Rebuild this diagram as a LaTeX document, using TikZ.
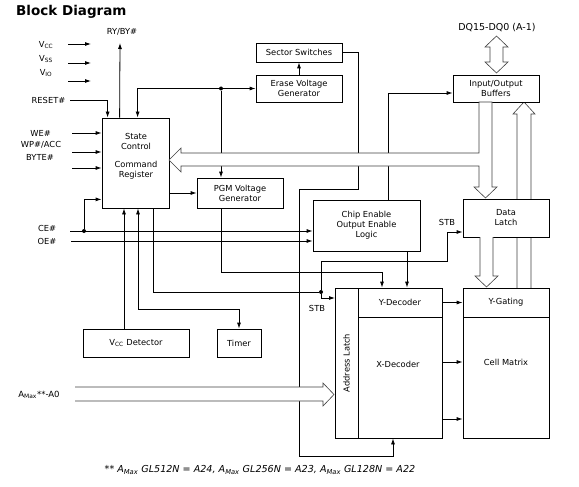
\documentclass[tikz,border=0pt]{standalone}
\usepackage{fontspec}
\setmainfont{DejaVu Sans}
\usetikzlibrary{arrows.meta,backgrounds}

\begin{document}
\begin{tikzpicture}[x=1pt,y=-1pt,
  block/.style={draw,fill=white,line width=0.8pt,inner sep=0pt,align=center,font=\fontsize{8.3}{10}\selectfont},
  txt/.style={inner sep=0pt,align=center,font=\fontsize{8.3}{10}\selectfont},
  link/.style={-{Latex[length=6pt,width=4pt]},line width=0.8pt},
  twoway/.style={{Latex[length=6pt,width=4pt]}-{Latex[length=6pt,width=4pt]},line width=0.8pt},
  wire/.style={line width=0.8pt},
  bus/.style={draw=black!75,fill=white,line width=0.6pt,line join=miter},
  junction/.style={circle,fill,inner sep=0pt,minimum size=4pt}]

\useasboundingbox (0,0) rectangle (579,487);

\node[anchor=base west,inner sep=0pt,font=\fontsize{13.5}{16}\selectfont\bfseries] (title) at (16,16) {Block Diagram};

\node[block,minimum width=67pt,minimum height=90pt] (sc) at (135.5,163) {};
\node[txt] (sctext) at (136,156) {State\\Control\\[8pt]Command\\Register};
\node[block,minimum width=86pt,minimum height=19pt] (sector) at (299,52.5) {Sector Switches};
\node[block,minimum width=86pt,minimum height=27pt] (erase) at (299,88.5) {Erase Voltage\\Generator};
\node[block,minimum width=86pt,minimum height=30pt] (pgm) at (240,193) {PGM Voltage\\Generator};
\node[block,minimum width=107pt,minimum height=51pt] (ce) at (366.5,225.5) {Chip Enable\\Output Enable\\Logic};
\node[block,minimum width=86pt,minimum height=27pt] (io) at (496,88.5) {Input/Output\\Buffers};
\node[block,minimum width=86pt,minimum height=38pt] (dl) at (506,218) {Data\\Latch};
\node[block,minimum width=106pt,minimum height=28pt] (vccdet) at (136,343) {V\textsubscript{CC} Detector};
\node[block,minimum width=44pt,minimum height=28pt] (timer) at (239,343) {Timer};
\node[block,rotate=90,minimum width=150pt,minimum height=23pt] (latch) at (346.5,363) {Address Latch};
\node[block,minimum width=84pt,minimum height=29pt] (ydec) at (400,302.5) {Y-Decoder};
\node[block,minimum width=84pt,minimum height=121pt] (xdec) at (400,377.5) {};
\node[txt] (xdectext) at (398,364) {X-Decoder};
\node[block,minimum width=86pt,minimum height=29pt] (ygate) at (506,302.5) {Y-Gating};
\node[block,minimum width=86pt,minimum height=121pt] (cell) at (506,377.5) {};
\node[txt] (celltext) at (506,362) {Cell Matrix};

\node[txt] (ryby) at (122,32) {RY/BY\#};
\node[txt] (vcc) at (46,45) {V\textsubscript{CC}};
\node[txt] (vss) at (46,59) {V\textsubscript{SS}};
\node[txt] (vio) at (46,73) {V\textsubscript{IO}};
\node[txt] (reset) at (48.5,100) {RESET\#};
\node[txt] (we) at (40.5,133) {WE\#};
\node[txt] (wp) at (41,145) {WP\#/ACC};
\node[txt] (byte) at (40,157) {BYTE\#};
\node[txt] (cel) at (47,228) {CE\#};
\node[txt] (oel) at (47,241) {OE\#};
\node[txt] (stba) at (317,308) {STB};
\node[txt] (stbb) at (447,222) {STB};
\node[txt,font=\fontsize{9.5}{11}\selectfont] (dq) at (497,28) {DQ15-DQ0 (A-1)};
\node[txt,font=\fontsize{8.5}{10}\selectfont] (amax) at (39,395) {A\textsubscript{Max}**-A0};
\node[txt,font=\fontsize{9.6}{11}\selectfont\itshape] (foot) at (260,470) {** A\textsubscript{Max} GL512N = A24, A\textsubscript{Max} GL256N = A23, A\textsubscript{Max} GL128N = A22};

\coordinate (vccin) at (68,44);
\coordinate (vssin) at (68,63);
\coordinate (vioin) at (68,81);
\coordinate (resetin) at (70,100);
\coordinate (wein) at (72,133);
\coordinate (wpin) at (72,152);
\coordinate (bytein) at (72,168);
\coordinate (cein) at (70,231);
\coordinate (oein) at (71,241);
\coordinate (rybyout) at (120,43);
\coordinate (stbin) at (335,298);
\node[junction] (jerase) at (221,88.5) {};
\node[junction] (jce) at (84,231) {};
\node[junction] (jstb) at (321,292) {};

\draw[link] (vccin) -- ++(23,0);
\draw[link] (vssin) -- ++(23,0);
\draw[link] (vioin) -- ++(23,0);
\draw[link] (resetin) -| ([xshift=6pt]sc.north west);
\draw[link] ([xshift=18pt]sc.north west) -- (rybyout);
\draw[twoway] ([xshift=36pt]sc.north west) |- (erase.west);
\draw[link] (jerase) -- (jerase |- pgm.north);
\draw[link] (erase.north) -- (sector.south);
\draw[link] (sector.east) -| (358,189) -| (299,456) -| ([xshift=-7pt]xdec.south);
\draw[link] ([xshift=21.5pt]ce.north) |- ([yshift=-4.5pt]io.west);
\draw[link] (wein) -- (wein -| sc.west);
\draw[link] (wpin) -- (wpin -| sc.west);
\draw[link] (bytein) -- (bytein -| sc.west);
\draw[link] (cein) -- (cein -| ce.west);
\draw[link] (oein) -- (oein -| ce.west);
\draw[link] (jce) |- ([yshift=9pt]sc.south west);
\draw[link] (sc.east |- pgm.west) -- (pgm.west);
\draw[link] ([xshift=-19pt]pgm.south) |- (382,272) -- ([xshift=-18pt]ydec.north);
\draw[link] ([xshift=40.5pt]ce.south) -- ([xshift=7pt]ydec.north);
\draw[wire] ([xshift=17.5pt]sc.south) |- (jstb);
\draw[link] (jstb) |- (447,261) |- ([yshift=-14pt]dl.west);
\draw[link] (jstb) |- (stbin);
\draw[twoway] ([xshift=2.5pt]sc.south) -- ++(0,101) -| (timer.north);
\draw[link] ([xshift=-12pt]vccdet.north) -- ([xshift=-11.5pt]sc.south);
\draw[link] (ydec.east) -- (ygate.west);
\draw[link] ([yshift=15.5pt]xdec.east) -- ([yshift=15.5pt]cell.west);
\draw[link] ([yshift=-41.5pt]xdec.east) -- ([yshift=-41.5pt]cell.west);

\draw[bus] (169,160) -- (181,148) -- (181,153) -- (479,153) -- (479,102) -- (492,102) -- (492,187) -- (497,187) -- (485.5,198) -- (474,187) -- (479,187) -- (479,166) -- (181,166) -- (181,172) -- cycle;
\draw[bus] (496.5,36) -- (508,47) -- (503,47) -- (503,62) -- (508,62) -- (496.5,73) -- (485,62) -- (490,62) -- (490,47) -- (485,47) -- cycle;
\draw[bus] (480,237) -- (480,276) -- (475,276) -- (486.5,287) -- (498,276) -- (493,276) -- (493,237);
\draw[bus] (75,387) -- (323,387) -- (323,383) -- (334,394.5) -- (323,406) -- (323,401) -- (75,401);
\begin{scope}[on background layer]
\draw[bus] (517,288) -- (517,114) -- (513,114) -- (524,102) -- (535,114) -- (531,114) -- (531,288);
\end{scope}
\end{tikzpicture}
\end{document}
